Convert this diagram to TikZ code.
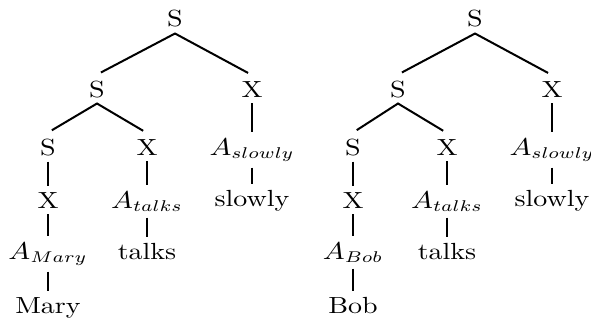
\documentclass[tikz,border=0pt]{standalone}
\usepackage{tikz}
\tikzset{
	lbl/.style={anchor=base, inner xsep=3pt, inner ysep=2.5pt, xscale=1.2, font=\fontsize{10.5}{12}\selectfont},
	br/.style={line width=0.9pt},
	slant/.style={br, shorten <=2pt, shorten >=2pt}
}

\begin{document}
\begin{tikzpicture}[x=0.45pt, y=-0.45pt]
			%%%%% START %%%%%
			\useasboundingbox (0, 0) rectangle (591, 320);
			
			% left tree (Mary)
			\node[lbl] (lS) at (175, 27) {S};
			\node[lbl] (lSS) at (97, 97) {S};
			\node[lbl] (lSX) at (252, 97) {X};
			\node[lbl] (lSSS) at (48, 155) {S};
			\node[lbl] (lSSX) at (147, 155) {X};
			\node[lbl] (lAslowly) at (252, 155) {$A_{slowly}$};
			\node[lbl] (lX) at (48, 208) {X};
			\node[lbl] (lAtalks) at (147, 208) {$A_{talks}$};
			\node[lbl] (lslowly) at (252, 206) {slowly};
			\node[lbl] (lAMary) at (48, 259) {$A_{Mary}$};
			\node[lbl] (ltalks) at (147, 259) {talks};
			\node[lbl] (lMary) at (48, 313) {Mary};
			
			\draw[slant] (lSS.north) -- (lS.south) -- (lSX.north);
			\draw[slant] (lSSS.north) -- (lSS.south) -- (lSSX.north);
			\draw[br] (lSX.south) -- (lAslowly.north);
			\draw[br] (lAslowly.south) -- (lslowly.north);
			\draw[br] (lSSS.south) -- (lX.north);
			\draw[br] (lX.south) -- (lAMary.north);
			\draw[br] (lAMary.south) -- (lMary.north);
			\draw[br] (lSSX.south) -- (lAtalks.north);
			\draw[br] (lAtalks.south) -- (ltalks.north);
			
			% right tree (Bob)
			\node[lbl] (rS) at (475, 27) {S};
			\node[lbl] (rSS) at (398, 97) {S};
			\node[lbl] (rSX) at (552, 97) {X};
			\node[lbl] (rSSS) at (353, 155) {S};
			\node[lbl] (rSSX) at (447, 155) {X};
			\node[lbl] (rAslowly) at (552, 155) {$A_{slowly}$};
			\node[lbl] (rX) at (353, 208) {X};
			\node[lbl] (rAtalks) at (447, 208) {$A_{talks}$};
			\node[lbl] (rslowly) at (552, 206) {slowly};
			\node[lbl] (rABob) at (353, 259) {$A_{Bob}$};
			\node[lbl] (rtalks) at (447, 259) {talks};
			\node[lbl] (rBob) at (353, 313) {Bob};
			
			\draw[slant] (rSS.north) -- (rS.south) -- (rSX.north);
			\draw[slant] (rSSS.north) -- (rSS.south) -- (rSSX.north);
			\draw[br] (rSX.south) -- (rAslowly.north);
			\draw[br] (rAslowly.south) -- (rslowly.north);
			\draw[br] (rSSS.south) -- (rX.north);
			\draw[br] (rX.south) -- (rABob.north);
			\draw[br] (rABob.south) -- (rBob.north);
			\draw[br] (rSSX.south) -- (rAtalks.north);
			\draw[br] (rAtalks.south) -- (rtalks.north);
			
			%%%%% END %%%%%
\end{tikzpicture}
\end{document}
